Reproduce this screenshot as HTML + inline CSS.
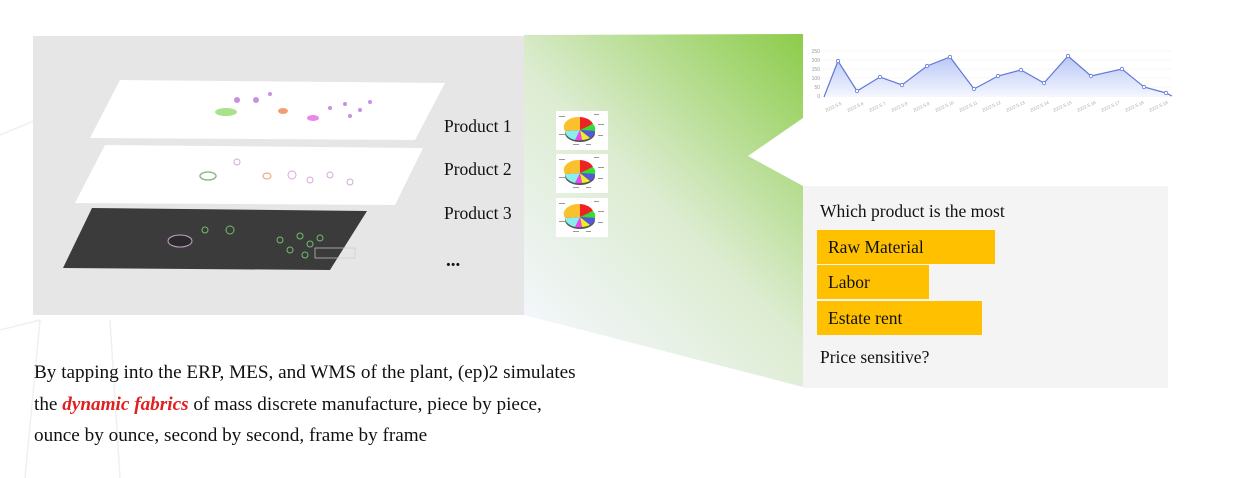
<!DOCTYPE html>
<html><head><meta charset="utf-8"><style>
body{margin:0;width:1253px;height:478px;position:relative;overflow:hidden;background:#fff;font-family:"Liberation Serif",serif;color:#111}
.a{position:absolute;white-space:nowrap}
.bar{position:absolute;left:817px;height:34px;background:#ffc000;font-size:17.5px;line-height:34px;padding-left:11px;box-sizing:border-box}
</style></head><body>
<svg class="a" style="left:0;top:0" width="1253" height="478">
<defs>
<linearGradient id="g" gradientUnits="userSpaceOnUse" x1="524" y1="315" x2="803" y2="34">
<stop offset="0" stop-color="#f3f6fb"/><stop offset="0.45" stop-color="#dcecd0"/><stop offset="1" stop-color="#8ccc4a"/>
</linearGradient>
<linearGradient id="ch" x1="0" y1="0" x2="0" y2="1">
<stop offset="0" stop-color="#b8c6f5"/><stop offset="1" stop-color="#f5f7ff"/>
</linearGradient>
</defs>
<g stroke="#eef0f2" stroke-width="1.5" fill="none">
<line x1="0" y1="135" x2="60" y2="110"/><line x1="0" y1="330" x2="40" y2="320"/>
<line x1="25" y1="478" x2="40" y2="320"/><line x1="120" y1="478" x2="110" y2="320"/>
</g>
<rect x="33" y="36" width="491" height="279" fill="#e6e6e6"/>
<polygon points="524,35 803,34 803,118 748,156 803,186 803,387 524,315" fill="url(#g)"/>
<polygon points="120,80 445,83 415,140 90,138" fill="#fff"/>
<polygon points="105,145 423,148 395,205 75,203" fill="#fff"/>
<polygon points="92,208 367,211 330,270 63,268" fill="#3b3b3b"/>
<ellipse cx="226" cy="112" rx="11" ry="4" fill="#a8e28a"/>
<ellipse cx="283" cy="111" rx="5" ry="3" fill="#f0a070"/>
<ellipse cx="313" cy="118" rx="6" ry="3" fill="#e888e8"/>
<g fill="#c890e0"><circle cx="237" cy="100" r="3"/><circle cx="256" cy="100" r="3"/><circle cx="270" cy="94" r="2"/><circle cx="330" cy="108" r="2"/><circle cx="345" cy="104" r="2"/><circle cx="360" cy="110" r="2"/><circle cx="350" cy="116" r="2"/><circle cx="370" cy="102" r="2"/></g>
<ellipse cx="208" cy="176" rx="8" ry="4" fill="none" stroke="#88c080" stroke-width="1.5"/>
<ellipse cx="267" cy="176" rx="4" ry="3" fill="none" stroke="#e0a070"/>
<g fill="none" stroke="#d8a8d8"><circle cx="237" cy="162" r="3"/><circle cx="292" cy="175" r="4"/><circle cx="310" cy="180" r="3"/><circle cx="330" cy="175" r="3"/><circle cx="350" cy="182" r="3"/></g>
<ellipse cx="180" cy="241" rx="12" ry="6" fill="#2a2a2a" stroke="#c8a0c8"/>
<g fill="none" stroke="#6fbf6f"><circle cx="205" cy="230" r="3"/><circle cx="230" cy="230" r="4"/><circle cx="280" cy="240" r="3"/><circle cx="300" cy="236" r="3"/><circle cx="310" cy="244" r="3"/><circle cx="320" cy="238" r="3"/><circle cx="290" cy="250" r="3"/><circle cx="305" cy="255" r="3"/></g>
<rect x="315" y="248" width="40" height="10" fill="none" stroke="#ccc" stroke-width="0.7"/>
<g font-family="Liberation Sans,sans-serif" font-size="5" fill="#999" text-anchor="end">
<text x="820" y="53">250</text><text x="820" y="62">200</text><text x="820" y="71">150</text><text x="820" y="80">100</text><text x="820" y="89">50</text><text x="820" y="98">0</text>
</g>
<g stroke="#f0f0f0" stroke-width="0.6"><line x1="823" y1="51" x2="1172" y2="51"/><line x1="823" y1="60" x2="1172" y2="60"/><line x1="823" y1="69" x2="1172" y2="69"/><line x1="823" y1="78" x2="1172" y2="78"/><line x1="823" y1="87" x2="1172" y2="87"/></g>
<polygon points="824,97 838,61 857,91 880,77 902,85 927,66 950,57 974,89 998,76 1021,70 1044,83 1068,56 1091,76 1122,69 1144,87 1166,93 1172,96 1172,97" fill="url(#ch)"/>
<polyline points="824,97 838,61 857,91 880,77 902,85 927,66 950,57 974,89 998,76 1021,70 1044,83 1068,56 1091,76 1122,69 1144,87 1166,93 1172,96" fill="none" stroke="#6278d8" stroke-width="1.2"/>
<g fill="#fff" stroke="#6278d8" stroke-width="0.8"><circle cx="838" cy="61" r="1.7"/><circle cx="857" cy="91" r="1.7"/><circle cx="880" cy="77" r="1.7"/><circle cx="902" cy="85" r="1.7"/><circle cx="927" cy="66" r="1.7"/><circle cx="950" cy="57" r="1.7"/><circle cx="974" cy="89" r="1.7"/><circle cx="998" cy="76" r="1.7"/><circle cx="1021" cy="70" r="1.7"/><circle cx="1044" cy="83" r="1.7"/><circle cx="1068" cy="56" r="1.7"/><circle cx="1091" cy="76" r="1.7"/><circle cx="1122" cy="69" r="1.7"/><circle cx="1144" cy="87" r="1.7"/><circle cx="1166" cy="93" r="1.7"/></g>
<g font-family="Liberation Sans,sans-serif" font-size="4.5" fill="#aaa">
<text transform="translate(826,112) rotate(-25)">2022.5.5</text><text transform="translate(848,112) rotate(-25)">2022.5.6</text><text transform="translate(870,112) rotate(-25)">2022.5.7</text><text transform="translate(892,112) rotate(-25)">2022.5.8</text><text transform="translate(914,112) rotate(-25)">2022.5.9</text><text transform="translate(936,112) rotate(-25)">2022.5.10</text><text transform="translate(960,112) rotate(-25)">2022.5.11</text><text transform="translate(983,112) rotate(-25)">2022.5.12</text><text transform="translate(1007,112) rotate(-25)">2022.5.13</text><text transform="translate(1031,112) rotate(-25)">2022.5.14</text><text transform="translate(1054,112) rotate(-25)">2022.5.15</text><text transform="translate(1078,112) rotate(-25)">2022.5.16</text><text transform="translate(1102,112) rotate(-25)">2022.5.17</text><text transform="translate(1126,112) rotate(-25)">2022.5.18</text><text transform="translate(1150,112) rotate(-25)">2022.5.19</text>
</g>
<g id="pie">
<rect x="556" y="111" width="52" height="39" fill="#fff"/>
<ellipse cx="580" cy="133" rx="15" ry="9" fill="#555"/>
<path d="M580,130 L580,117 A15,10 0 0 1 593,124 Z" fill="#ee2222"/>
<path d="M580,130 L593,124 A15,10 0 0 1 595,131 Z" fill="#33dd33"/>
<path d="M580,130 L595,131 A15,10 0 0 1 590,138 Z" fill="#5555dd"/>
<path d="M580,130 L590,138 A15,10 0 0 1 582,140 Z" fill="#eeee22"/>
<path d="M580,130 L582,140 A15,10 0 0 1 575,140 Z" fill="#ee44ee"/>
<path d="M580,130 L575,140 A15,10 0 0 1 565,131 Z" fill="#88eeee"/>
<path d="M580,130 L565,131 A15,10 0 0 1 580,117 Z" fill="#fbc02d"/>
<g fill="#999"><rect x="559" y="116" width="6" height="1"/><rect x="559" y="134" width="6" height="1"/><rect x="598" y="124" width="6" height="1"/><rect x="598" y="135" width="5" height="1"/><rect x="594" y="114" width="5" height="1"/><rect x="573" y="144" width="6" height="1"/><rect x="586" y="144" width="5" height="1"/></g>
</g>
<use href="#pie" y="43"/><use href="#pie" y="87"/>
<rect x="803" y="186" width="365" height="202" fill="#f4f4f4"/>
</svg>
<div class="a" style="left:444px;top:116px;font-size:17.5px">Product 1</div>
<div class="a" style="left:444px;top:159px;font-size:17.5px">Product 2</div>
<div class="a" style="left:444px;top:203px;font-size:17.5px">Product 3</div>
<div class="a" style="left:446px;top:250px;font-size:19px;font-weight:bold">...</div>
<div class="a" style="left:820px;top:201px;font-size:17.5px">Which product is the most</div>
<div class="bar" style="top:230px;width:178px">Raw Material</div>
<div class="bar" style="top:265px;width:112px">Labor</div>
<div class="bar" style="top:301px;width:165px">Estate rent</div>
<div class="a" style="left:820px;top:347px;font-size:17.5px">Price sensitive?</div>
<div class="a" style="left:34px;top:357px;font-size:19.2px;line-height:31.5px">By tapping into the ERP, MES, and WMS of the plant, (ep)2 simulates<br>the <b style="color:#e02020;font-style:italic">dynamic fabrics</b> of mass discrete manufacture, piece by piece,<br>ounce by ounce, second by second, frame by frame</div>
</body></html>
